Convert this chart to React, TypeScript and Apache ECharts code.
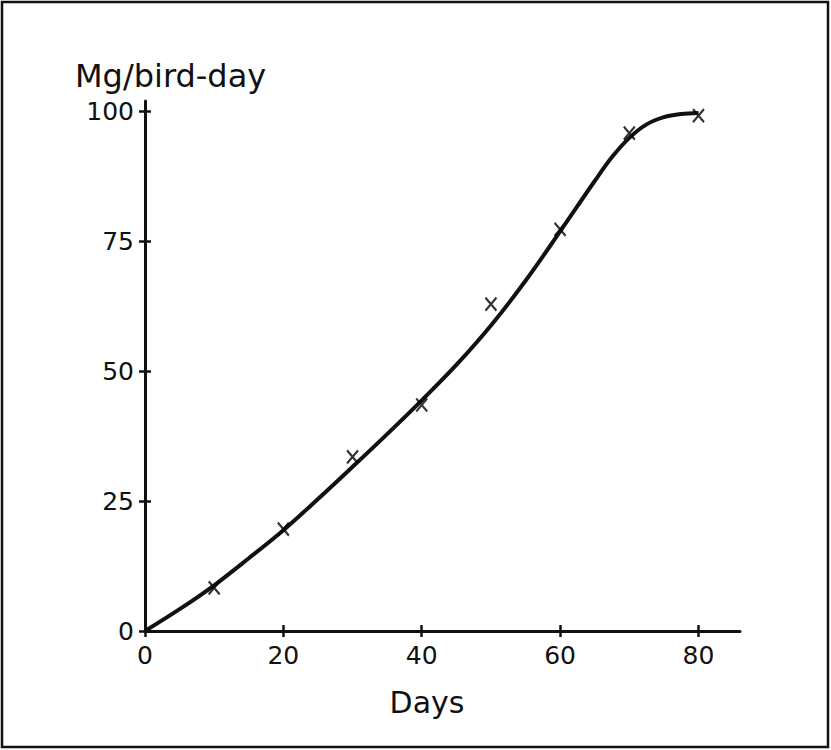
import React, { useEffect, useRef } from "react";
import * as echarts from "echarts";

// Fitted curve (days, Mg/bird-day)
const curveDays = [0, 5, 10, 15, 20, 25, 30, 35, 40, 45, 50, 55, 60, 65, 67.5, 70, 72.5, 75, 77.5, 80];
const curveValues = [0, 4.2, 8.8, 14, 19.4, 25.4, 31.6, 37.9, 44.4, 51.2, 58.8, 67.4, 76.9, 86.6, 91.2, 94.9, 97.5, 98.9, 99.5, 99.7];
// Observed points (x marks)
const obsDays = [10, 20, 30, 40, 50, 60, 70, 80];
const obsValues = [8.3, 19.6, 33.5, 43.5, 62.9, 77.3, 95.8, 99.2];
// Tick labels
const xTicks = [0, 20, 40, 60, 80];
const yTicks = [0, 25, 50, 75, 100];

const INK = "#111";
const FONT = '"DejaVu Sans", sans-serif';

export default function App() {
  const ref = useRef<HTMLDivElement>(null);

  useEffect(() => {
    if (!ref.current) return;
    const chart = echarts.init(ref.current, null, { renderer: "svg" });
    const xMain = {
      type: "value",
      min: 0,
      max: 86,
      position: "bottom",
      axisLine: { show: true, lineStyle: { color: INK, width: 3 } },
      axisTick: { show: true, customValues: xTicks, length: 6, lineStyle: { color: INK, width: 2.5 } },
      axisLabel: { customValues: xTicks, color: INK, fontSize: 25, fontFamily: FONT, margin: 12 },
      splitLine: { show: false },
    };
    const xInner = {
      type: "value",
      min: 0,
      max: 86,
      position: "bottom",
      axisLine: { show: false },
      axisTick: { show: true, inside: true, customValues: xTicks, length: 6, lineStyle: { color: INK, width: 2.5 } },
      axisLabel: { show: false },
      splitLine: { show: false },
    };
    const yMain = {
      type: "value",
      min: 0,
      max: 102,
      position: "left",
      axisLine: { show: true, lineStyle: { color: INK, width: 3 } },
      axisTick: { show: true, customValues: yTicks, length: 6, lineStyle: { color: INK, width: 2.5 } },
      axisLabel: { customValues: yTicks, color: INK, fontSize: 25, fontFamily: FONT, margin: 11 },
      splitLine: { show: false },
    };
    const yInner = {
      type: "value",
      min: 0,
      max: 102,
      position: "left",
      axisLine: { show: false },
      axisTick: { show: true, inside: true, customValues: yTicks, length: 6, lineStyle: { color: INK, width: 2.5 } },
      axisLabel: { show: false },
      splitLine: { show: false },
    };

    chart.setOption({
      animation: false,
      backgroundColor: "#fff",
      grid: { left: 145, top: 101, width: 595, height: 530, containLabel: false },
      xAxis: [xMain, xInner],
      yAxis: [yMain, yInner],
      graphic: [
        {
          type: "rect",
          shape: { x: 2, y: 2, width: 826, height: 745 },
          style: { fill: "none", stroke: INK, lineWidth: 2.5 },
          silent: true,
        },
        {
          type: "text",
          x: 75,
          y: 76,
          style: {
            text: "Mg/bird-day",
            fontSize: 32,
            fontFamily: FONT,
            fill: INK,
            textAlign: "left",
            textVerticalAlign: "middle",
          },
        },
        {
          type: "text",
          x: 427,
          y: 702,
          style: {
            text: "Days",
            fontSize: 30,
            fontFamily: FONT,
            fill: INK,
            textAlign: "center",
            textVerticalAlign: "middle",
          },
        },
      ],
      series: [
        {
          type: "line",
          xAxisIndex: 0,
          yAxisIndex: 0,
          data: curveDays.map((d, i) => [d, curveValues[i]]),
          smooth: 0.35,
          showSymbol: false,
          symbol: "none",
          lineStyle: { color: INK, width: 4 },
          z: 3,
        },
        {
          type: "scatter",
          xAxisIndex: 0,
          yAxisIndex: 0,
          data: obsDays.map((d, i) => [d, obsValues[i]]),
          symbol: "path://M0,0L10,12M10,0L0,12",
          symbolSize: [11, 13],
          itemStyle: { color: "transparent", borderColor: "#000", borderWidth: 2.2 },
          z: 4,
        },
      ],
    });
    return () => chart.dispose();
  }, []);

  return (
    <div
      ref={ref}
      style={{ position: "fixed", left: 0, top: 0, width: 831, height: 750, background: "#fff" }}
    />
  );
}
